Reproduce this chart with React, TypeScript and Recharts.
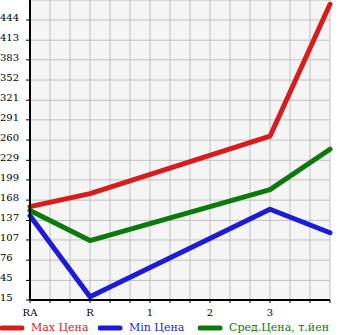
import React from 'react';
import { LineChart, Line, XAxis, YAxis, CartesianGrid } from 'recharts';

const xLabels = ['RA', 'R', '1', '2', '3', ''];
const maxPrice = [158, 178, null, null, 266, 468];
const minPrice = [144, 20, null, null, 154, 118];
const avgPrice = [152, 106, null, null, 184, 246];
const yTicks = [15, 45, 76, 107, 137, 168, 199, 229, 260, 291, 321, 352, 383, 413, 444];

const RED = '#d81c1c';
const BLUE = '#1c1cd8';
const GREEN = '#0a7a0a';
const FONT = '"DejaVu Serif", serif';

// one row per category, x is the category index
const chartData = xLabels.map((label, i) => ({
    x: i,
    label,
    max: maxPrice[i],
    min: minPrice[i],
    avg: avgPrice[i],
}));

// minor ticks every third of a category, labels only on whole ones
const xTicks: number[] = [];
for (let k = 0; k <= (xLabels.length - 1) * 3; k++) xTicks.push(k / 3);

const YTick = (props: any) => {
    const { y, payload } = props;
    return (
        <text x={0} y={y + 1} textAnchor="start" fontSize={10} fontFamily={FONT} fill="#000">
            {payload.value}
        </text>
    );
};

const XTick = (props: any) => {
    const { x, y, payload } = props;
    const v = payload.value;
    if (Math.abs(v - Math.round(v)) > 1e-6) return null;
    return (
        <text x={x} y={y + 11} textAnchor="middle" fontSize={10} fontFamily={FONT} fill="#000">
            {xLabels[Math.round(v)]}
        </text>
    );
};

const legendItems = [
    { name: 'Max Цена', color: RED, left: 0 },
    { name: 'Min Цена', color: BLUE, left: 98 },
    { name: 'Сред.Цена, т.йен', color: GREEN, left: 198 },
];

const App: React.FC = () => {
    return (
        <div style={{ position: 'absolute', left: 0, top: 0, width: 345, height: 335 }}>
            <LineChart width={345} height={335} data={chartData} margin={{ top: 0, right: 15, bottom: 0, left: 0 }}>
                <CartesianGrid stroke="#c0c0c0" fill="#f5f5f5" strokeWidth={1} />
                <XAxis
                    dataKey="x"
                    type="number"
                    domain={[0, xLabels.length - 1]}
                    ticks={xTicks}
                    interval={0}
                    height={35}
                    tick={<XTick />}
                    tickSize={3}
                    tickLine={{ stroke: '#000' }}
                    axisLine={{ stroke: '#000', strokeWidth: 2 }}
                />
                <YAxis
                    type="number"
                    domain={[15, 474.6]}
                    ticks={yTicks}
                    interval={0}
                    width={30}
                    tick={<YTick />}
                    tickSize={4}
                    tickLine={{ stroke: '#000' }}
                    axisLine={{ stroke: '#000', strokeWidth: 2 }}
                />
                <Line dataKey="min" stroke={BLUE} strokeWidth={5} strokeLinecap="round" strokeLinejoin="round" dot={false} connectNulls isAnimationActive={false} />
                <Line dataKey="max" stroke={RED} strokeWidth={5} strokeLinecap="round" strokeLinejoin="round" dot={false} connectNulls isAnimationActive={false} />
                <Line dataKey="avg" stroke={GREEN} strokeWidth={5} strokeLinecap="round" strokeLinejoin="round" dot={false} connectNulls isAnimationActive={false} />
            </LineChart>
            {legendItems.map(item => (
                <div key={item.name} style={{ position: 'absolute', left: item.left, top: 320, height: 15, display: 'flex', alignItems: 'center', whiteSpace: 'nowrap' }}>
                    <svg width={26} height={8} style={{ display: 'block' }}>
                        <line x1={2} y1={4} x2={22} y2={4} stroke={item.color} strokeWidth={5} strokeLinecap="round" />
                    </svg>
                    <span style={{ marginLeft: 5, color: item.color, fontFamily: FONT, fontSize: 11 }}>{item.name}</span>
                </div>
            ))}
        </div>
    );
};

export default App;
